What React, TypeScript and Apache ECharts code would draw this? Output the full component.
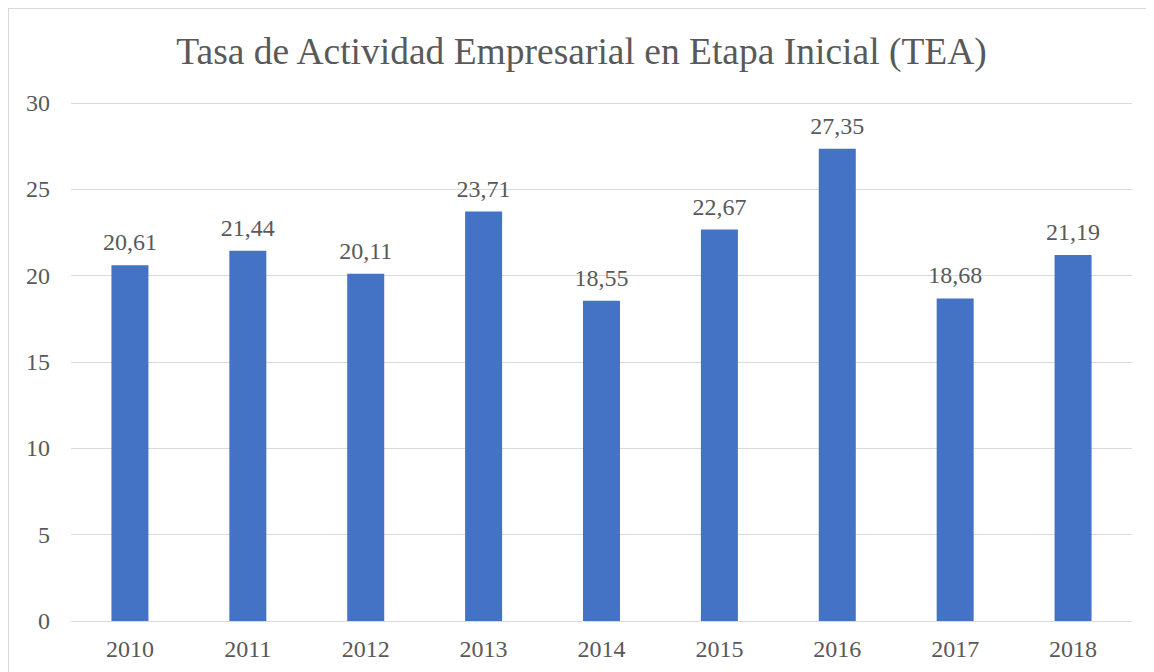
import React, { useEffect, useRef } from "react";
import * as echarts from "echarts";

const title = "Tasa de Actividad Empresarial en Etapa Inicial (TEA)";
const years = ["2010", "2011", "2012", "2013", "2014", "2015", "2016", "2017", "2018"];
const teaValues = [20.61, 21.44, 20.11, 23.71, 18.55, 22.67, 27.35, 18.68, 21.19];
const yMin = 0;
const yMax = 30;
const yStep = 5;

const FONT = "Liberation Serif";
const TEXT = "#595959";
const GRID = "#D9D9D9";
const BAR = "#4472C4";

export default function App() {
  const ref = useRef<HTMLDivElement>(null);
  useEffect(() => {
    if (!ref.current) return;
    const chart = echarts.init(ref.current, undefined, { renderer: "svg" });
    chart.setOption({
      animation: false,
      backgroundColor: "#ffffff",
      title: {
        text: title,
        left: "center",
        top: 18,
        textStyle: { fontFamily: FONT, fontSize: 37.5, fontWeight: "normal", color: TEXT },
      },
      grid: { left: 62, top: 94, width: 1061, height: 518, containLabel: false },
      xAxis: {
        type: "category",
        data: years,
        axisLine: { show: true, lineStyle: { color: GRID, width: 1 } },
        axisTick: { show: false },
        axisLabel: { fontFamily: FONT, fontSize: 24, color: TEXT, margin: 16 },
      },
      yAxis: {
        type: "value",
        min: yMin,
        max: yMax,
        interval: yStep,
        axisLine: { show: false },
        axisTick: { show: false },
        splitLine: { lineStyle: { color: GRID, width: 1 } },
        axisLabel: { fontFamily: FONT, fontSize: 24, color: TEXT, margin: 21 },
      },
      series: [
        {
          type: "bar",
          data: teaValues,
          barWidth: 37,
          itemStyle: { color: BAR },
          label: {
            show: true,
            position: "top",
            distance: 11,
            fontFamily: FONT,
            fontSize: 24,
            color: TEXT,
            formatter: (p: any) => Number(p.value).toFixed(2).replace(".", ","),
          },
        },
      ],
    });
    return () => chart.dispose();
  }, []);
  return (
    <div
      ref={ref}
      style={{
        width: 1146,
        height: 664,
        borderTop: "1px solid #D9D9D9",
        borderLeft: "1px solid #D9D9D9",
        boxSizing: "border-box",
      }}
    />
  );
}
